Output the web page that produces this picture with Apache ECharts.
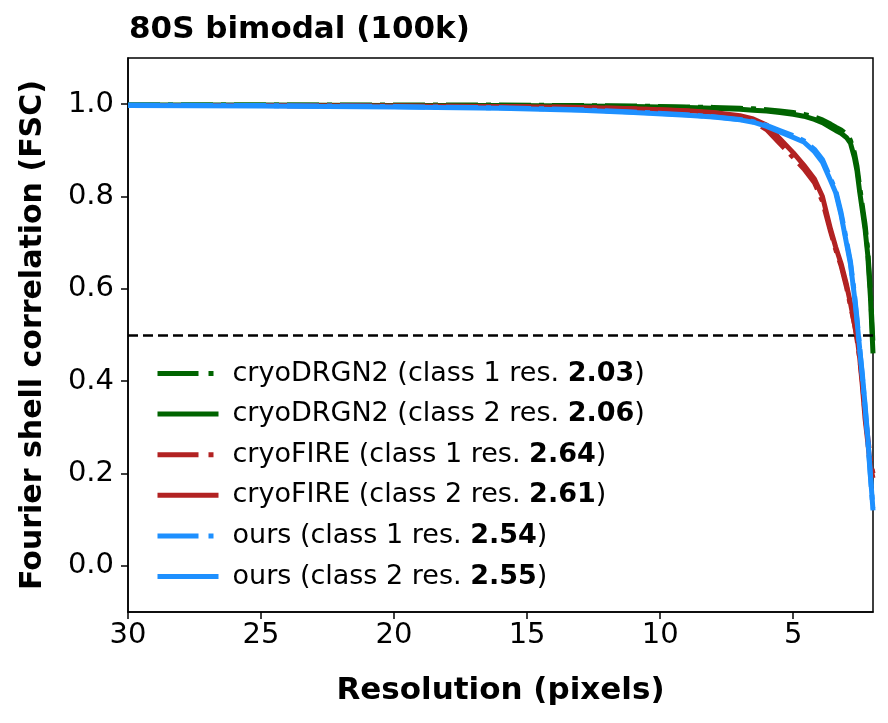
<!DOCTYPE html>
<html>
<head>
<meta charset="utf-8">
<script src="https://cdn.jsdelivr.net/npm/echarts@6/dist/echarts.min.js"></script>
<style>
  html, body { margin: 0; padding: 0; background: #fff; }
  #chart { width: 888px; height: 723px; }
</style>
</head>
<body>
<div id="chart"></div>
<script>
// resolution (pixels) shared by all curves
const resolution = [30, 25, 20, 16, 13, 11, 9, 8, 7, 6.5, 6, 5.5, 5, 4.6, 4.2, 3.9, 3.6, 3.4, 3.2, 3.0, 2.85, 2.7, 2.6, 2.5, 2.4, 2.3, 2.2, 2.1, 2.0];

// FSC values
const drgnClass1 = [0.998, 0.998, 0.998, 0.998, 0.997, 0.996, 0.994, 0.993, 0.991, 0.990, 0.988, 0.985, 0.982, 0.978, 0.972, 0.966, 0.957, 0.950, 0.944, 0.935, 0.922, 0.895, 0.865, 0.820, 0.780, 0.740, 0.685, 0.600, 0.480];
const drgnClass2 = [0.998, 0.998, 0.997, 0.997, 0.996, 0.995, 0.993, 0.991, 0.989, 0.987, 0.985, 0.982, 0.978, 0.974, 0.967, 0.960, 0.950, 0.943, 0.937, 0.928, 0.916, 0.885, 0.855, 0.810, 0.770, 0.730, 0.675, 0.585, 0.460];
const fireClass1 = [0.997, 0.997, 0.996, 0.995, 0.993, 0.990, 0.985, 0.981, 0.973, 0.963, 0.945, 0.915, 0.885, 0.860, 0.830, 0.790, 0.725, 0.685, 0.650, 0.605, 0.565, 0.525, 0.490, 0.450, 0.400, 0.330, 0.280, 0.230, 0.200];
const fireClass2 = [0.997, 0.997, 0.996, 0.995, 0.993, 0.990, 0.986, 0.982, 0.975, 0.968, 0.955, 0.925, 0.895, 0.868, 0.838, 0.800, 0.730, 0.690, 0.655, 0.610, 0.570, 0.525, 0.497, 0.450, 0.390, 0.320, 0.270, 0.215, 0.190];
const oursClass1 = [0.998, 0.997, 0.995, 0.992, 0.988, 0.983, 0.977, 0.973, 0.967, 0.962, 0.954, 0.943, 0.932, 0.921, 0.902, 0.880, 0.840, 0.812, 0.765, 0.705, 0.660, 0.590, 0.535, 0.470, 0.410, 0.345, 0.275, 0.195, 0.125];
const oursClass2 = [0.997, 0.996, 0.994, 0.991, 0.987, 0.982, 0.976, 0.972, 0.966, 0.961, 0.952, 0.940, 0.928, 0.918, 0.897, 0.874, 0.835, 0.808, 0.760, 0.700, 0.655, 0.585, 0.530, 0.470, 0.415, 0.350, 0.280, 0.200, 0.120];

const xTicks = [5, 10, 15, 20, 25, 30];
const yTicks = [0.0, 0.2, 0.4, 0.6, 0.8, 1.0];
const threshold = 0.5;

// legend: name prefix + bold resolution
const methods = ['cryoDRGN2', 'cryoDRGN2', 'cryoFIRE', 'cryoFIRE', 'ours', 'ours'];
const classes = [1, 2, 1, 2, 1, 2];
const resLabels = ['2.03', '2.06', '2.64', '2.61', '2.54', '2.55'];
const colors = ['#006400', '#006400', '#b22222', '#b22222', '#1e90ff', '#1e90ff'];
const curves = [drgnClass1, drgnClass2, fireClass1, fireClass2, oursClass1, oursClass2];

const FONT = 'DejaVu Sans';
const dashDot = [32, 8, 5, 8];
const legendDashDot = [41, 10, 5, 60];

const names = methods.map((m, i) => `${m} (class ${classes[i]} res. ${resLabels[i]})`);

const series = curves.map((ys, i) => ({
    name: names[i],
    type: 'line',
    data: resolution.map((r, k) => [r, ys[k]]),
    symbol: 'none',
    z: 2 + i,
    lineStyle: {
        color: colors[i],
        width: 5,
        type: classes[i] === 1 ? dashDot : 'solid'
    },
    itemStyle: { color: colors[i] }
}));

// 0.5 threshold
series[0].markLine = {
    silent: true,
    symbol: 'none',
    label: { show: false },
    lineStyle: { color: '#000', type: [10, 5], width: 2.6 },
    data: [{ yAxis: threshold }]
};

const myChart = echarts.init(document.getElementById('chart'), null, { renderer: 'canvas' });

const option = {
    backgroundColor: '#fff',
    animation: false,
    title: {
        text: '80S bimodal (100k)',
        left: 124,
        top: 9,
        textStyle: { fontFamily: FONT, fontSize: 31, fontWeight: 'bold', color: '#000' }
    },
    grid: {
        left: 128, right: 15, top: 58, bottom: 111,
        show: true,
        borderColor: '#000',
        borderWidth: 1.5
    },
    legend: {
        orient: 'vertical',
        left: 150,
        top: 355,
        itemWidth: 61,
        itemHeight: 14,
        itemGap: 13.6,
        itemStyle: { opacity: 0 },
        data: names.map((n, i) => ({
            name: n,
            lineStyle: {
                color: colors[i],
                width: 5,
                type: classes[i] === 1 ? legendDashDot : 'solid'
            }
        })),
        formatter: function (name) {
            const i = names.indexOf(name);
            return `{a|${methods[i]} (class ${classes[i]} res. }{b|${resLabels[i]}}{a|)}`;
        },
        textStyle: {
            fontFamily: FONT,
            fontSize: 27,
            color: '#000',
            padding: [0, 0, 0, 9],
            rich: {
                a: { fontFamily: FONT, fontSize: 27, color: '#000' },
                b: { fontFamily: FONT, fontSize: 27, fontWeight: 'bold', color: '#000' }
            }
        }
    },
    xAxis: {
        type: 'value',
        inverse: true,
        min: 2,
        max: 30,
        name: 'Resolution (pixels)',
        nameLocation: 'middle',
        nameGap: 63,
        nameTextStyle: { fontFamily: FONT, fontSize: 31, fontWeight: 'bold', color: '#000' },
        axisLine: { show: true, onZero: false, lineStyle: { color: '#000', width: 1.5 } },
        axisTick: { show: true, length: 7, lineStyle: { color: '#000', width: 1.5 }, customValues: xTicks },
        axisLabel: {
            customValues: xTicks,
            fontFamily: FONT, fontSize: 29, color: '#000', margin: 9
        },
        splitLine: { show: false }
    },
    yAxis: {
        type: 'value',
        min: -0.1,
        max: 1.1,
        name: 'Fourier shell correlation (FSC)',
        nameLocation: 'middle',
        nameGap: 80,
        nameTextStyle: { fontFamily: FONT, fontSize: 30, fontWeight: 'bold', color: '#000' },
        axisLine: { show: true, onZero: false, lineStyle: { color: '#000', width: 1.5 } },
        axisTick: { show: true, length: 7, lineStyle: { color: '#000', width: 1.5 }, customValues: yTicks },
        axisLabel: {
            customValues: yTicks,
            formatter: v => v.toFixed(1),
            fontFamily: FONT, fontSize: 29, color: '#000', margin: 14
        },
        splitLine: { show: false }
    },
    series: series
};

myChart.setOption(option);
</script>
</body>
</html>
